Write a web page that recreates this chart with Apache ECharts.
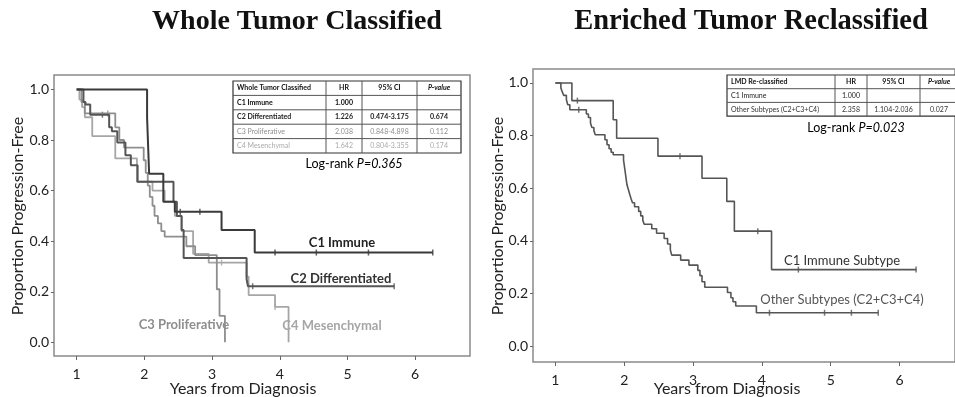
<!DOCTYPE html>
<html><head><meta charset="utf-8">
<script src="https://cdn.jsdelivr.net/npm/echarts@6/dist/echarts.min.js"></script>
<style>html,body{margin:0;padding:0;background:#fff}#c{width:955px;height:397px}</style>
</head><body><div id="c"></div>
<script>
// ---------- tick labels ----------
const xTicks = [1, 2, 3, 4, 5, 6];
const yTicks = [0, 0.2, 0.4, 0.6, 0.8, 1.0];

// ---------- Left panel: Whole Tumor Classified ----------
const c1Time = [1.0, 2.04, 2.055, 2.07, 2.28, 2.45, 3.14, 3.63, 6.26];
const c1Surv = [1.0, 0.889, 0.778, 0.667, 0.556, 0.516, 0.444, 0.355, 0.355];
const c1CensT = [2.53, 2.82, 3.93, 4.54, 5.31, 6.26];
const c1CensS = [0.516, 0.516, 0.355, 0.355, 0.355, 0.355];

const c2Time = [1.0, 1.10, 1.13, 1.20, 1.48, 1.52, 1.60, 1.72, 1.80, 1.90, 2.43, 2.48, 2.55, 2.58, 3.51, 3.53, 5.69];
const c2Surv = [1.0, 0.95, 0.94, 0.90, 0.85, 0.835, 0.79, 0.74, 0.70, 0.635, 0.556, 0.50, 0.444, 0.333, 0.25, 0.222, 0.222];
const c2CensT = [1.38, 3.60, 5.69];
const c2CensS = [0.90, 0.222, 0.222];

const c3Time = [1.0, 1.07, 1.12, 1.57, 1.63, 1.70, 1.99, 2.02, 2.05, 2.08, 2.12, 2.15, 2.20, 2.25, 2.30, 2.62, 2.75, 3.07, 3.11, 3.19];
const c3Surv = [1.0, 0.95, 0.905, 0.85, 0.80, 0.77, 0.72, 0.67, 0.62, 0.575, 0.54, 0.50, 0.47, 0.44, 0.418, 0.38, 0.345, 0.21, 0.105, 0.0];
const c3CensT = [1.46];
const c3CensS = [0.905];

const c4Time = [1.0, 1.04, 1.08, 1.12, 1.23, 1.57, 1.89, 2.12, 2.30, 2.45, 2.55, 2.72, 2.95, 3.51, 3.54, 3.93, 4.13];
const c4Surv = [1.0, 0.96, 0.93, 0.89, 0.815, 0.727, 0.635, 0.60, 0.556, 0.50, 0.44, 0.35, 0.315, 0.26, 0.187, 0.14, 0.0];
const c4CensT = [3.14, 3.93];
const c4CensS = [0.315, 0.14];

// ---------- Right panel: Enriched Tumor Reclassified ----------
const immTime = [1.0, 1.24, 1.84, 1.89, 2.49, 3.13, 3.49, 3.60, 4.14, 6.24];
const immSurv = [1.0, 0.933, 0.86, 0.79, 0.722, 0.638, 0.55, 0.437, 0.291, 0.291];
const immCensT = [1.32, 2.81, 3.94, 4.53, 6.24];
const immCensS = [0.933, 0.722, 0.437, 0.291, 0.291];

const othTime = [1.0, 1.08, 1.10, 1.12, 1.16, 1.18, 1.21, 1.45, 1.48, 1.51, 1.53, 1.56, 1.58, 1.72, 1.75, 1.78, 1.81, 1.84,
  1.99, 2.00, 2.01, 2.02, 2.03, 2.04, 2.06, 2.08, 2.10, 2.12, 2.15, 2.21, 2.24, 2.27, 2.29, 2.40, 2.47, 2.58, 2.63, 2.67, 2.69,
  2.82, 2.94, 3.07, 3.10, 3.13, 3.17, 3.50, 3.55, 3.58, 3.62, 3.92, 5.69];
const othSurv = [1.0, 0.981, 0.966, 0.953, 0.936, 0.917, 0.898, 0.882, 0.869, 0.848, 0.831, 0.818, 0.803, 0.784, 0.765, 0.750, 0.737, 0.727,
  0.708, 0.689, 0.670, 0.651, 0.632, 0.613, 0.595, 0.577, 0.560, 0.545, 0.530, 0.512, 0.495, 0.478, 0.463, 0.446, 0.429, 0.409, 0.388, 0.366, 0.346,
  0.327, 0.308, 0.288, 0.268, 0.245, 0.224, 0.204, 0.184, 0.169, 0.153, 0.127, 0.127];
const othCensT = [1.34, 4.11, 4.91, 5.30, 5.69];
const othCensS = [0.898, 0.127, 0.127, 0.127, 0.127];

// ---------- tables ----------
const leftTableHeader = ['Whole Tumor Classified', 'HR', '95% CI', 'P-value'];
const leftTableRows = [
  ['C1 Immune', '1.000', '', ''],
  ['C2 Differentiated', '1.226', '0.474-3.175', '0.674'],
  ['C3 Proliferative', '2.038', '0.848-4.898', '0.112'],
  ['C4 Mesenchymal', '1.642', '0.804-3.355', '0.174']
];
const rightTableHeader = ['LMD Re-classified', 'HR', '95% CI', 'P-value'];
const rightTableRows = [
  ['C1 Immune', '1.000', '', ''],
  ['Other Subtypes (C2+C3+C4)', '2.358', '1.104-2.036', '0.027']
];

const FONT = 'Lato, "Open Sans", sans-serif';
const zip = (t, s) => t.map((v, i) => [v, s[i]]);

function kmSeries(name, t, s, ax, color, width) {
  return { name, type: 'line', step: 'end', xAxisIndex: ax, yAxisIndex: ax, data: zip(t, s),
    symbol: 'none', lineStyle: { color, width }, silent: true, animation: false };
}
function censSeries(t, s, ax, color) {
  return { type: 'scatter', xAxisIndex: ax, yAxisIndex: ax, data: zip(t, s), symbol: 'rect',
    symbolSize: [1.5, 6], itemStyle: { color }, silent: true, animation: false };
}
function xAx(idx, min, max) {
  return { type: 'value', gridIndex: idx, min, max,
    axisLine: { show: false, onZero: false }, splitLine: { show: false },
    axisTick: { show: true, customValues: xTicks, length: 4, lineStyle: { color: '#666' } },
    axisLabel: { customValues: xTicks, color: '#222', fontSize: 14, fontFamily: FONT, margin: 11 } };
}
function yAx(idx, min, max) {
  return { type: 'value', gridIndex: idx, min, max,
    axisLine: { show: false, onZero: false }, splitLine: { show: false },
    axisTick: { show: true, customValues: yTicks, length: 3, lineStyle: { color: '#666' } },
    axisLabel: { customValues: yTicks, color: '#222', fontSize: 14, fontFamily: FONT, margin: 5,
      formatter: v => v.toFixed(1) } };
}

function table(x, y, cols, rowH, header, rows, rowColors, boldRows) {
  const els = [];
  const all = [header].concat(rows);
  const w = cols[cols.length - 1] - cols[0];
  const h = rowH * all.length;
  els.push({ type: 'rect', shape: { x, y, width: w, height: h }, style: { fill: '#fff', stroke: '#333', lineWidth: 1.2 } });
  for (let r = 1; r < all.length; r++) {
    els.push({ type: 'line', shape: { x1: x, y1: y + r * rowH, x2: x + w, y2: y + r * rowH }, style: { stroke: '#555', lineWidth: 1 } });
  }
  for (let c = 1; c < cols.length - 1; c++) {
    els.push({ type: 'line', shape: { x1: x + cols[c] - cols[0], y1: y, x2: x + cols[c] - cols[0], y2: y + h }, style: { stroke: '#555', lineWidth: 1 } });
  }
  all.forEach((row, r) => {
    row.forEach((txt, c) => {
      if (!txt) return;
      const cx = c === 0 ? x + 4 : x + (cols[c] + cols[c + 1]) / 2 - cols[0];
      els.push({ type: 'text', x: cx, y: y + r * rowH + rowH / 2,
        style: { text: txt, fill: rowColors[r], font: (boldRows[r] ? 'bold ' : '') + ((r === 0 && c === 3) ? 'italic ' : '') + '7px ' + FONT,
          align: c === 0 ? 'left' : 'center', verticalAlign: 'middle' } });
    });
  });
  return els;
}

function txt(x, y, text, size, color, weight, rot) {
  return { type: 'text', x, y, rotation: rot || 0,
    style: { text, fill: color, font: (weight || 'normal') + ' ' + size + 'px ' + FONT, align: 'center', verticalAlign: 'middle' } };
}
function logrank(x, y, p) {
  return { type: 'text', x, y, style: { text: '{a|Log-rank }{b|P=' + p + '}', align: 'center', verticalAlign: 'middle',
    rich: { a: { fontSize: 12.5, fontFamily: FONT, color: '#222' }, b: { fontSize: 12.5, fontFamily: FONT, fontStyle: 'italic', color: '#222' } } } };
}

const chart = echarts.init(document.getElementById('c'), null, { renderer: 'canvas' });
chart.setOption({
  backgroundColor: '#fff',
  animation: false,
  grid: [
    { left: 54, top: 75, width: 416, height: 281, show: true, borderColor: '#8a8a8a', borderWidth: 1.5, backgroundColor: 'transparent' },
    { left: 533, top: 69, width: 428, height: 293, show: true, borderColor: '#8a8a8a', borderWidth: 1.5, backgroundColor: 'transparent' }
  ],
  xAxis: [xAx(0, 0.665, 6.81), xAx(1, 0.675, 6.805)],
  yAxis: [yAx(0, -0.054, 1.057), yAx(1, -0.06, 1.053)],
  series: [
    kmSeries('C4 Mesenchymal', c4Time, c4Surv, 0, '#a6a6a6', 1.8),
    kmSeries('C3 Proliferative', c3Time, c3Surv, 0, '#8e8e8e', 1.8),
    kmSeries('C2 Differentiated', c2Time, c2Surv, 0, '#555555', 2),
    kmSeries('C1 Immune', c1Time, c1Surv, 0, '#3a3a3a', 2),
    censSeries(c4CensT, c4CensS, 0, '#a6a6a6'),
    censSeries(c3CensT, c3CensS, 0, '#8e8e8e'),
    censSeries(c2CensT, c2CensS, 0, '#555555'),
    censSeries(c1CensT, c1CensS, 0, '#3a3a3a'),
    kmSeries('Other Subtypes (C2+C3+C4)', othTime, othSurv, 1, '#555555', 1.6),
    kmSeries('C1 Immune Subtype', immTime, immSurv, 1, '#555555', 1.6),
    censSeries(othCensT, othCensS, 1, '#555555'),
    censSeries(immCensT, immCensS, 1, '#555555')
  ],
  graphic: [].concat(
    [
      { type: 'text', x: 297, y: 22, style: { text: 'Whole Tumor Classified', font: 'bold 28px "Liberation Serif", "DejaVu Serif", serif', fill: '#111', align: 'center', verticalAlign: 'middle' } },
      { type: 'text', x: 751, y: 22, style: { text: 'Enriched Tumor Reclassified', font: 'bold 28.5px "Liberation Serif", "DejaVu Serif", serif', fill: '#111', align: 'center', verticalAlign: 'middle' } },
      txt(18, 216, 'Proportion Progression-Free', 16, '#222', 'normal', Math.PI / 2),
      txt(498, 216, 'Proportion Progression-Free', 16, '#222', 'normal', Math.PI / 2),
      txt(243, 389, 'Years from Diagnosis', 16, '#222'),
      txt(727, 389, 'Years from Diagnosis', 16, '#222'),
      txt(342, 243, 'C1 Immune', 13, '#222', 'bold'),
      txt(341, 279, 'C2 Differentiated', 13, '#333', 'bold'),
      txt(184, 325, 'C3 Proliferative', 13, '#8e8e8e', 'bold'),
      txt(332, 326, 'C4 Mesenchymal', 13, '#a6a6a6', 'bold'),
      txt(842, 261, 'C1 Immune Subtype', 13, '#333'),
      txt(842, 300, 'Other Subtypes (C2+C3+C4)', 13, '#555'),
      logrank(354, 164, '0.365'),
      logrank(856, 128, '0.023')
    ],
    table(233, 81, [233, 326, 362, 417, 461], 14.4, leftTableHeader, leftTableRows,
      ['#111', '#111', '#222', '#8e8e8e', '#aaaaaa'], [true, true, true, false, false]),
    table(727, 75, [727, 835, 867, 920, 958], 13.7, rightTableHeader, rightTableRows,
      ['#111', '#222', '#333'], [true, false, false])
  )
});
</script></body></html>
